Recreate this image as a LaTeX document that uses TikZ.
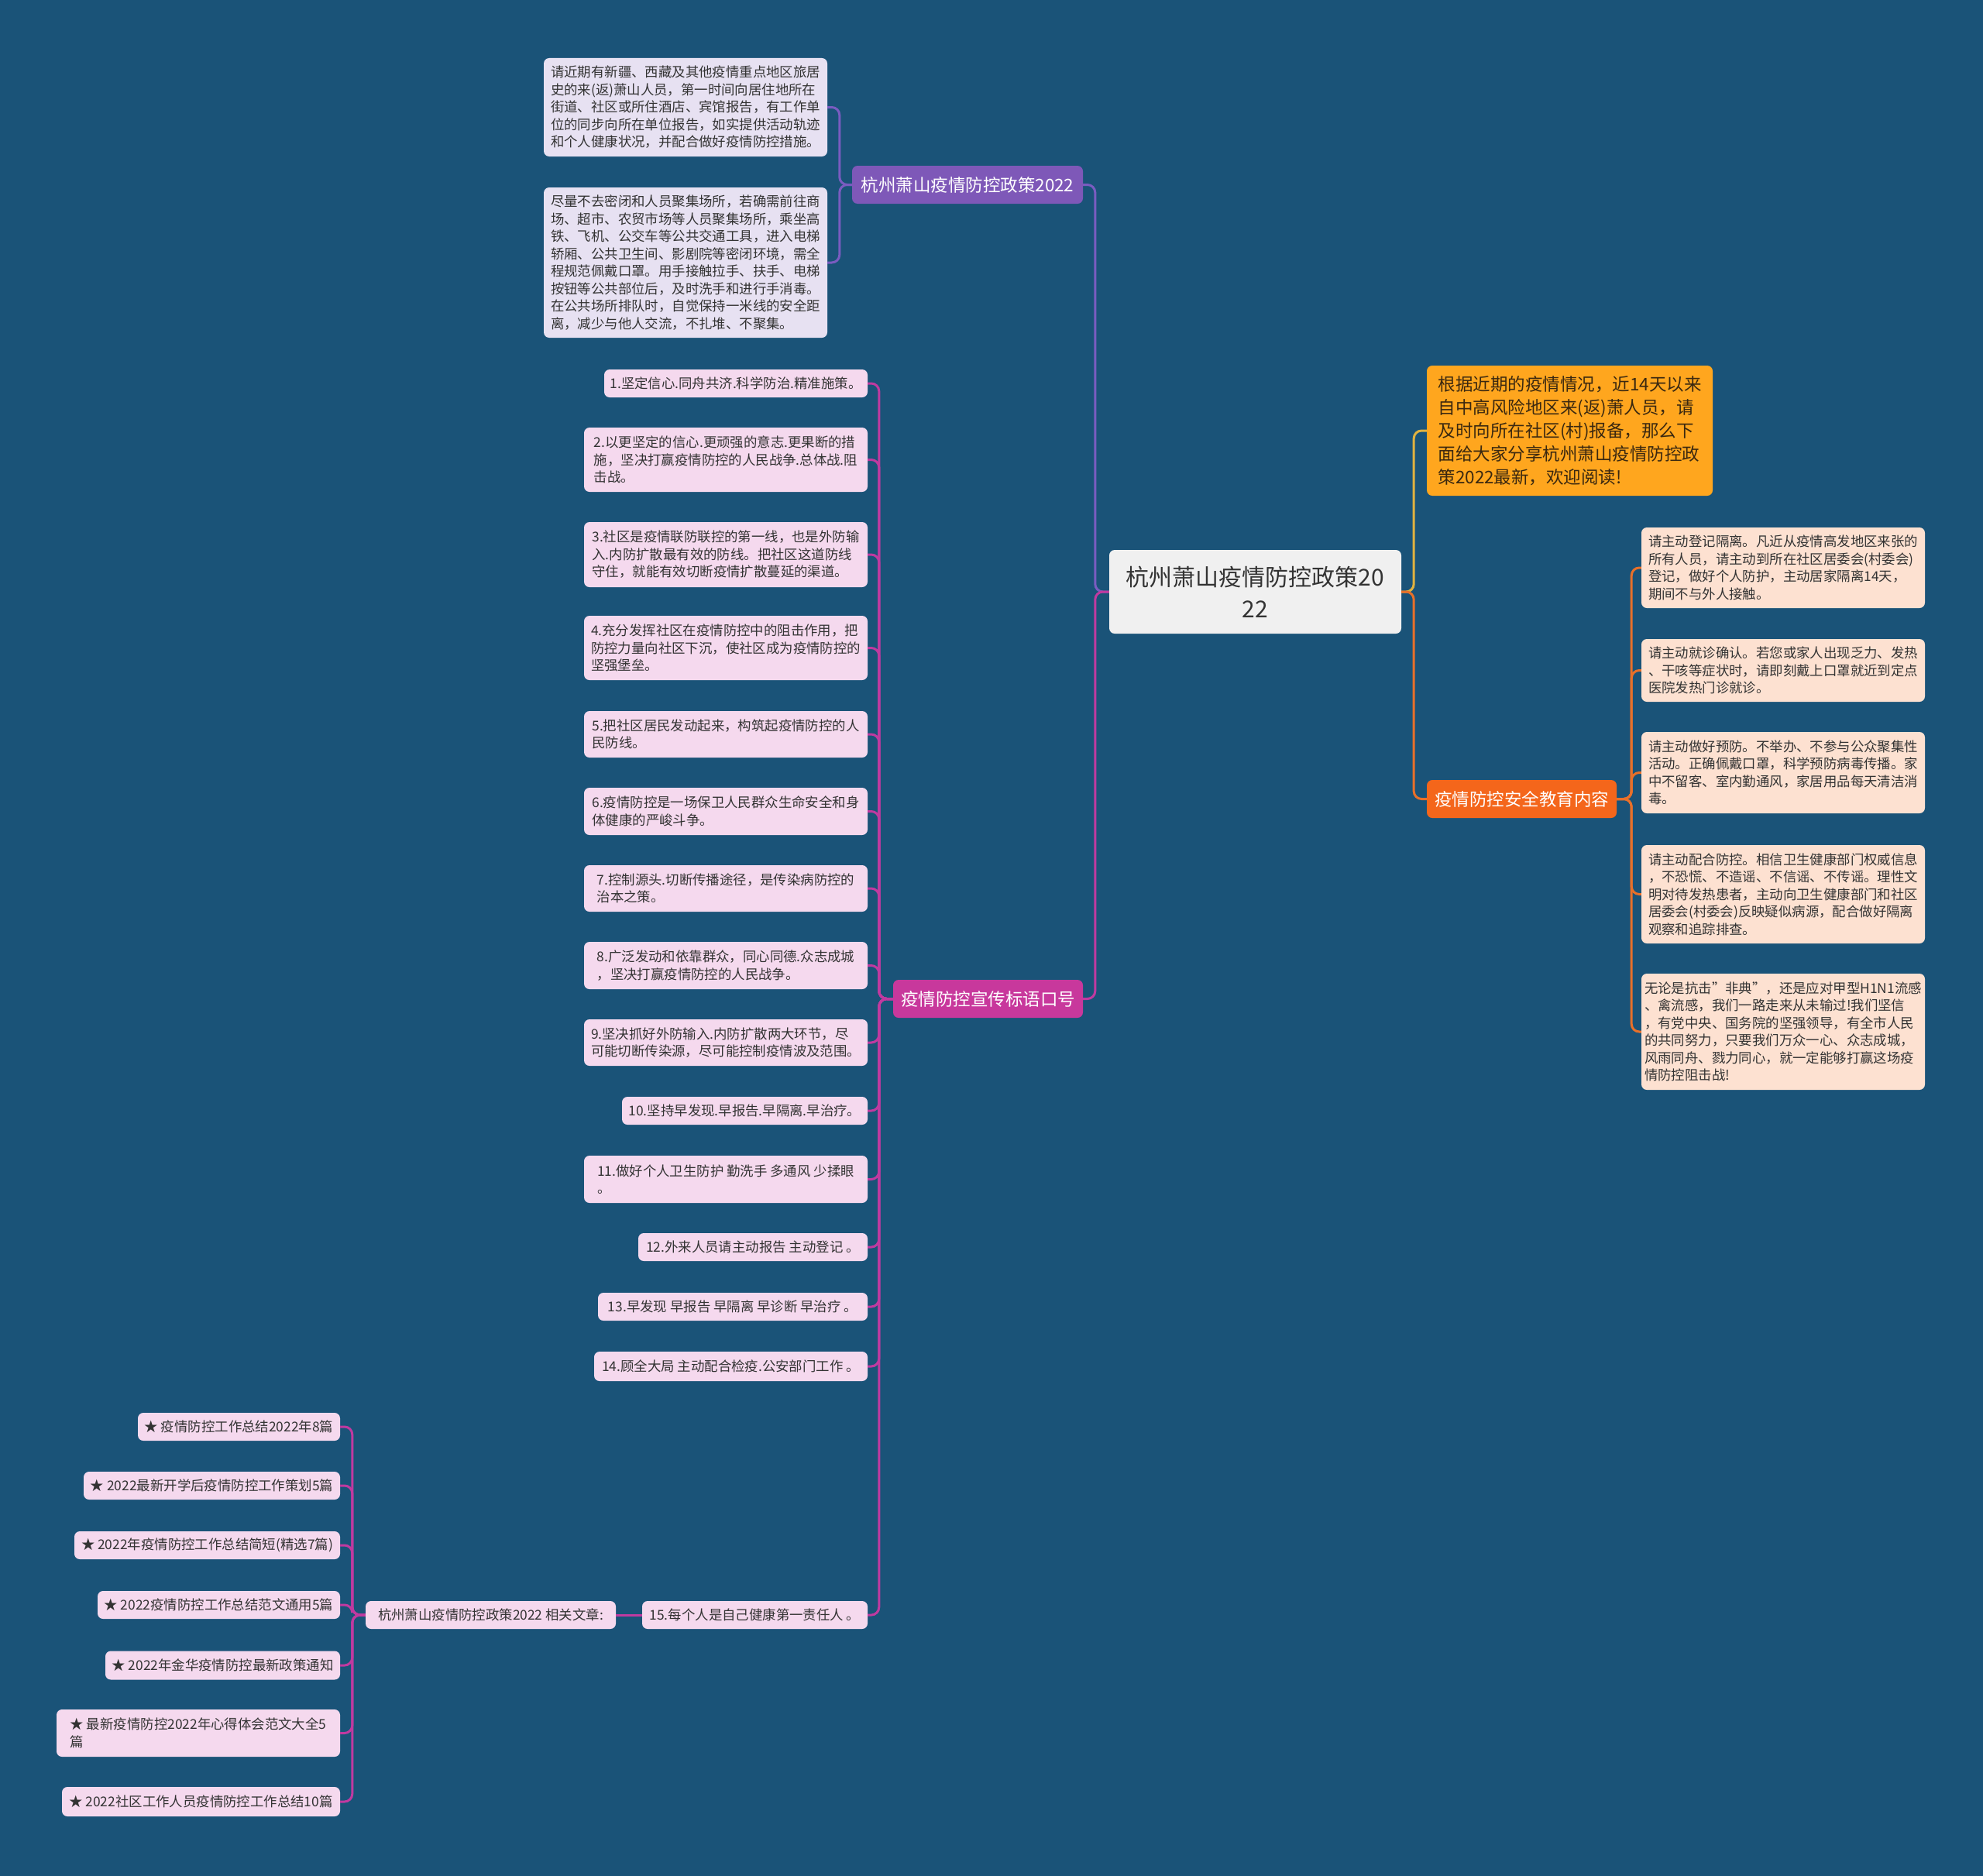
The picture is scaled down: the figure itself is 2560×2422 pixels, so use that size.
\documentclass[tikz,border=0pt]{standalone}
\usepackage{fontspec}
\setmainfont{Noto Sans CJK SC}
\definecolor{bg}{RGB}{26,83,120}
\definecolor{rootfill}{RGB}{240,240,240}
\definecolor{purpB}{RGB}{126,88,184}
\definecolor{purpL}{RGB}{231,225,242}
\definecolor{purpC}{RGB}{122,92,192}
\definecolor{magB}{RGB}{200,56,156}
\definecolor{magL}{RGB}{245,217,238}
\definecolor{magC}{RGB}{192,58,160}
\definecolor{introF}{RGB}{255,166,30}
\definecolor{introC}{RGB}{224,178,64}
\definecolor{orgB}{RGB}{244,102,27}
\definecolor{orgL}{RGB}{253,225,209}
\definecolor{orgC}{RGB}{232,112,42}
\definecolor{txt}{RGB}{51,51,51}
\newcommand{\leaffont}{\fontsize{17.4}{22.5}\selectfont}
\newcommand{\branchfont}{\fontsize{22.5}{28}\selectfont}
\begin{document}
\begin{tikzpicture}[x=1pt,y=-1pt,
  box/.style={rounded corners=7pt, inner sep=0pt, align=left},
  rootbox/.style={box, align=center, fill=rootfill, text=txt, font=\fontsize{30}{41}\selectfont},
  branchbox/.style={box, align=center, text=white, font=\branchfont},
  leafP/.style={box, fill=purpL, text=txt, font=\leaffont},
  leafM/.style={box, fill=magL, text=txt, font=\leaffont},
  leafO/.style={box, fill=orgL, text=txt, font=\leaffont},
  conn/.style={line width=3pt, rounded corners=10pt}
]
\fill[bg] (0,0) rectangle (2560,2422);
\useasboundingbox (0,0) rectangle (2560,2422);

% root
\node[rootbox, minimum width=377, minimum height=108] (root) at (1620.5,764) {杭州萧山疫情防控政策20\\22};

% branch 1
\node[branchbox, fill=purpB, minimum width=298, minimum height=49] (b1) at (1249,238.5) {杭州萧山疫情防控政策2022};
\node[leafP, minimum width=366, minimum height=127] (l1a) at (885,138.5) {请近期有新疆、西藏及其他疫情重点地区旅居\\史的来(返)萧山人员，第一时间向居住地所在\\街道、社区或所住酒店、宾馆报告，有工作单\\位的同步向所在单位报告，如实提供活动轨迹\\和个人健康状况，并配合做好疫情防控措施。};
\node[leafP, minimum width=366, minimum height=194] (l1b) at (885,339) {尽量不去密闭和人员聚集场所，若确需前往商\\场、超市、农贸市场等人员聚集场所，乘坐高\\铁、飞机、公交车等公共交通工具，进入电梯\\轿厢、公共卫生间、影剧院等密闭环境，需全\\程规范佩戴口罩。用手接触拉手、扶手、电梯\\按钮等公共部位后，及时洗手和进行手消毒。\\在公共场所排队时，自觉保持一米线的安全距\\离，减少与他人交流，不扎堆、不聚集。};

% branch 2
\node[branchbox, fill=magB, minimum width=245, minimum height=49] (b2) at (1275.5,1289.5) {疫情防控宣传标语口号};
\node[leafM, minimum width=340, minimum height=36] (s1) at (950,495) {1.坚定信心.同舟共济.科学防治.精准施策。};
\node[leafM, minimum width=366, minimum height=83] (s2) at (937,593.5) {2.以更坚定的信心.更顽强的意志.更果断的措\\施，坚决打赢疫情防控的人民战争.总体战.阻\\击战。};
\node[leafM, minimum width=366, minimum height=84] (s3) at (937,716) {3.社区是疫情联防联控的第一线，也是外防输\\入.内防扩散最有效的防线。把社区这道防线\\守住，就能有效切断疫情扩散蔓延的渠道。};
\node[leafM, minimum width=366, minimum height=83] (s4) at (937,836.5) {4.充分发挥社区在疫情防控中的阻击作用，把\\防控力量向社区下沉，使社区成为疫情防控的\\坚强堡垒。};
\node[leafM, minimum width=366, minimum height=60] (s5) at (937,948) {5.把社区居民发动起来，构筑起疫情防控的人\\民防线。};
\node[leafM, minimum width=366, minimum height=61] (s6) at (937,1047.5) {6.疫情防控是一场保卫人民群众生命安全和身\\体健康的严峻斗争。};
\node[leafM, minimum width=366, minimum height=60] (s7) at (937,1147) {7.控制源头.切断传播途径，是传染病防控的\\治本之策。};
\node[leafM, minimum width=366, minimum height=61] (s8) at (937,1246.5) {8.广泛发动和依靠群众，同心同德.众志成城\\，坚决打赢疫情防控的人民战争。};
\node[leafM, minimum width=366, minimum height=60] (s9) at (937,1346) {9.坚决抓好外防输入.内防扩散两大环节，尽\\可能切断传染源，尽可能控制疫情波及范围。};
\node[leafM, minimum width=317, minimum height=36] (s10) at (961.5,1434) {10.坚持早发现.早报告.早隔离.早治疗。};
\node[leafM, minimum width=366, minimum height=61] (s11) at (937,1522.5) {11.做好个人卫生防护 勤洗手 多通风 少揉眼\\。};
\node[leafM, minimum width=296, minimum height=36] (s12) at (972,1610) {12.外来人员请主动报告 主动登记 。};
\node[leafM, minimum width=348, minimum height=36] (s13) at (946,1687) {13.早发现 早报告 早隔离 早诊断 早治疗 。};
\node[leafM, minimum width=353, minimum height=38] (s14) at (943.5,1764) {14.顾全大局 主动配合检疫.公安部门工作 。};
\node[leafM, minimum width=291, minimum height=36] (s15) at (974.5,2085) {15.每个人是自己健康第一责任人 。};
\node[leafM, minimum width=323, minimum height=36] (rel) at (633.5,2085) {杭州萧山疫情防控政策2022 相关文章:};
\node[leafM, minimum width=261, minimum height=36] (t1) at (308.5,1842) {★ 疫情防控工作总结2022年8篇};
\node[leafM, minimum width=331, minimum height=36] (t2) at (273.5,1918) {★ 2022最新开学后疫情防控工作策划5篇};
\node[leafM, minimum width=343, minimum height=36] (t3) at (267.5,1995) {★ 2022年疫情防控工作总结简短(精选7篇)};
\node[leafM, minimum width=313, minimum height=36] (t4) at (282.5,2072) {★ 2022疫情防控工作总结范文通用5篇};
\node[leafM, minimum width=303, minimum height=37] (t5) at (287.5,2150) {★ 2022年金华疫情防控最新政策通知};
\node[leafM, minimum width=366, minimum height=61] (t6) at (256,2237.5) {★ 最新疫情防控2022年心得体会范文大全5\\篇};
\node[leafM, minimum width=359, minimum height=38] (t7) at (259.5,2326) {★ 2022社区工作人员疫情防控工作总结10篇};

% right side
\node[box, fill=introF, text={rgb,255:red,58;green,40;blue,16}, font=\fontsize{22.5}{30}\selectfont, minimum width=369, minimum height=168] (intro) at (2026.5,556) {根据近期的疫情情况，近14天以来\\自中高风险地区来(返)萧人员，请\\及时向所在社区(村)报备，那么下\\面给大家分享杭州萧山疫情防控政\\策2022最新，欢迎阅读!};
\node[branchbox, fill=orgB, minimum width=245, minimum height=49] (b3) at (1964.5,1031.5) {疫情防控安全教育内容};
\node[leafO, minimum width=366, minimum height=104] (e1) at (2302,733) {请主动登记隔离。凡近从疫情高发地区来张的\\所有人员，请主动到所在社区居委会(村委会)\\登记，做好个人防护，主动居家隔离14天，\\期间不与外人接触。};
\node[leafO, minimum width=366, minimum height=81] (e2) at (2302,865.5) {请主动就诊确认。若您或家人出现乏力、发热\\、干咳等症状时，请即刻戴上口罩就近到定点\\医院发热门诊就诊。};
\node[leafO, minimum width=366, minimum height=105] (e3) at (2302,997.5) {请主动做好预防。不举办、不参与公众聚集性\\活动。正确佩戴口罩，科学预防病毒传播。家\\中不留客、室内勤通风，家居用品每天清洁消\\毒。};
\node[leafO, minimum width=366, minimum height=127] (e4) at (2302,1154.5) {请主动配合防控。相信卫生健康部门权威信息\\，不恐慌、不造谣、不信谣、不传谣。理性文\\明对待发热患者，主动向卫生健康部门和社区\\居委会(村委会)反映疑似病源，配合做好隔离\\观察和追踪排查。};
\node[leafO, minimum width=366, minimum height=150] (e5) at (2302,1332) {无论是抗击"非典"，还是应对甲型H1N1流感\\、禽流感，我们一路走来从未输过!我们坚信\\，有党中央、国务院的坚强领导，有全市人民\\的共同努力，只要我们万众一心、众志成城，\\风雨同舟、戮力同心，就一定能够打赢这场疫\\情防控阻击战!};

% connectors
\begin{scope}[on background layer/.style={}]
\end{scope}
\draw[conn, purpC] (root.west) -- ([xshift=-18pt]root.west) |- (b1.east);
\draw[conn, magC] (root.west) -- ([xshift=-18pt]root.west) |- (b2.east);
\draw[conn, introC] (root.east) -- ([xshift=16pt]root.east) |- (intro.west);
\draw[conn, orgC] (root.east) -- ([xshift=16pt]root.east) |- (b3.west);

\foreach \n in {l1a,l1b}
  \draw[conn, purpC] (b1.west) -- ([xshift=-16pt]b1.west) |- (\n.east);
\foreach \n in {s1,s2,s3,s4,s5,s6,s7,s8,s9,s10,s11,s12,s13,s14,s15}
  \draw[conn, magC] (b2.west) -- ([xshift=-18pt]b2.west) |- (\n.east);
\draw[conn, magC] (s15.west) -- (rel.east);
\foreach \n in {t1,t2,t3,t4,t5,t6,t7}
  \draw[conn, magC] (rel.west) -- ([xshift=-17pt]rel.west) |- (\n.east);
\foreach \n in {e1,e2,e3,e4,e5}
  \draw[conn, orgC] (b3.east) -- ([xshift=19pt]b3.east) |- (\n.west);
\end{tikzpicture}
\end{document}
